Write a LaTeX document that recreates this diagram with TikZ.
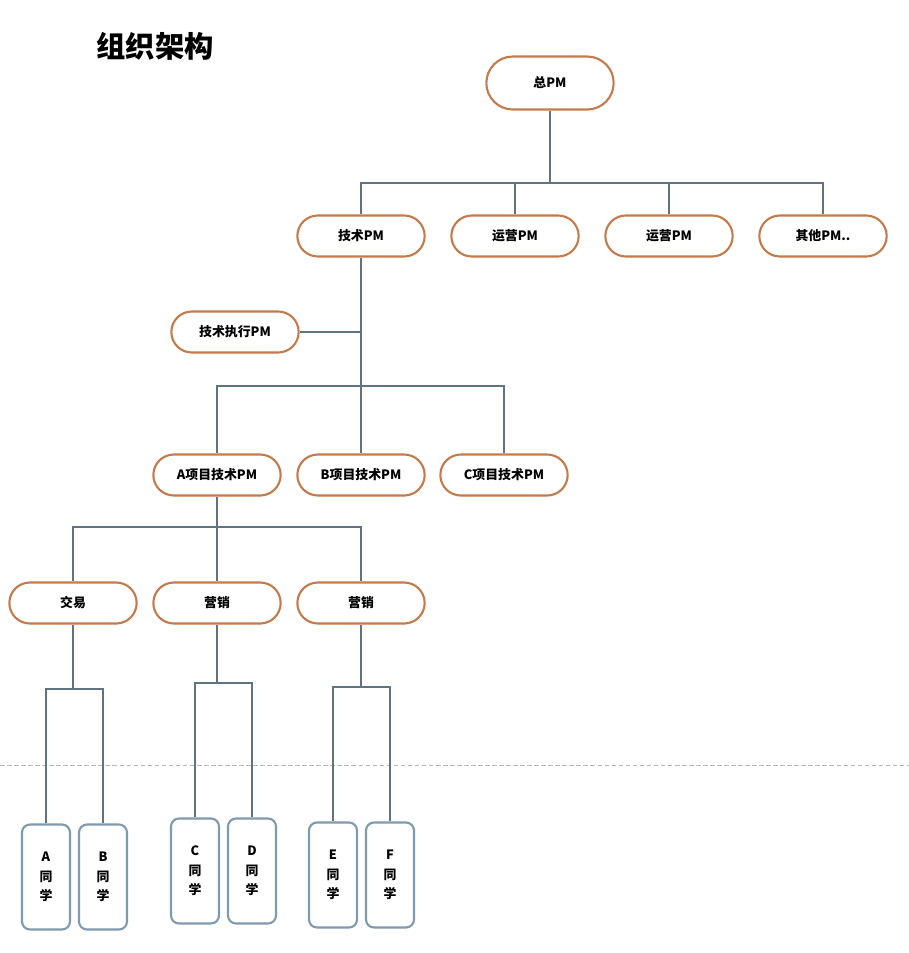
\documentclass[tikz,border=0pt]{standalone}
\usepackage{fontspec}
\setmainfont{Noto Sans CJK SC}
\usepackage{xcolor}
\usepackage{tikz}
\usetikzlibrary{shapes.misc, positioning, calc}
\definecolor{pmborder}{RGB}{196, 122, 74}
\definecolor{memberborder}{RGB}{126, 154, 174}
\definecolor{linkgray}{RGB}{96, 115, 128}
\definecolor{breakgray}{RGB}{185, 185, 185}
\tikzset{
  font=\fontsize{11}{13}\selectfont\bfseries,
  pmblock/.style={
    rounded rectangle, draw=pmborder, line width=1.8pt, fill=white,
    minimum width=132*0.03cm, minimum height=41*0.03cm, inner sep=2pt,
    align=center
  },
  topblock/.style={pmblock, minimum height=53*0.03cm},
  memberblock/.style={
    rectangle, rounded corners=8*0.03cm, draw=memberborder, line width=1.8pt,
    fill=white, minimum width=48*0.03cm, minimum height=105*0.03cm,
    inner sep=1pt, align=center, font=\fontsize{11}{16.5}\selectfont\bfseries
  },
  orgline/.style={draw=linkgray, line width=2.4pt},
  breakline/.style={draw=breakgray, line width=0.6pt, dash pattern=on 4pt off 2pt}
}
\begin{document}
\begin{tikzpicture}[x=0.03cm, y=-0.03cm]
  \useasboundingbox (0,0) rectangle (909,953);

  % Title
  \node[font=\fontsize{25}{30}\selectfont\bfseries] (title) at (155,46) {组织架构};

  % Page break marker
  \coordinate (brk_l) at (0,765);
  \coordinate (brk_r) at (909,765);
  \draw[breakline] (brk_l) -- (brk_r);

  % Level 1: overall PM
  \node[topblock] (zong) at (550,83) {总PM};

  % Level 2: PM lines
  \node[pmblock] (tech) at (361,236) {技术PM};
  \node[pmblock] (ops1) at (515,236) {运营PM};
  \node[pmblock] (ops2) at (669,236) {运营PM};
  \node[pmblock] (other) at (823,236) {其他PM..};

  % Tech branch
  \node[pmblock] (exec) at (235,332) {技术执行PM};
  \node[pmblock] (proja) at (217,475) {A项目技术PM};
  \node[pmblock] (projb) at (361,475) {B项目技术PM};
  \node[pmblock] (projc) at (504,475) {C项目技术PM};

  % Project A teams
  \node[pmblock] (trade) at (73,603) {交易};
  \node[pmblock] (mkt1) at (217,603) {营销};
  \node[pmblock] (mkt2) at (361,603) {营销};

  % Team members
  \node[memberblock] (mem_a) at (46,877) {A\\同\\学};
  \node[memberblock] (mem_b) at (103,877) {B\\同\\学};
  \node[memberblock] (mem_c) at (195,871) {C\\同\\学};
  \node[memberblock] (mem_d) at (252,871) {D\\同\\学};
  \node[memberblock] (mem_e) at (333,875) {E\\同\\学};
  \node[memberblock] (mem_f) at (390,875) {F\\同\\学};

  % Junction points
  \coordinate (hub_top) at (550,183);
  \coordinate (hub_tech) at (361,386);
  \coordinate (hub_proja) at (217,527);
  \coordinate (hub_trade) at (73,689);
  \coordinate (hub_mkt1) at (217,683);
  \coordinate (hub_mkt2) at (361,687);

  % Connectors
  \draw[orgline] (zong.south) -- (hub_top);
  \draw[orgline] (tech.north) |- (hub_top) -| (other.north);
  \draw[orgline] (ops1.north) -- (ops1.north |- hub_top);
  \draw[orgline] (ops2.north) -- (ops2.north |- hub_top);

  \draw[orgline] (tech.south) -- (hub_tech);
  \draw[orgline] (exec.east) -- (exec.east -| tech.south);
  \draw[orgline] (proja.north) |- (hub_tech) -| (projc.north);
  \draw[orgline] (projb.north) -- (hub_tech);

  \draw[orgline] (proja.south) -- (hub_proja);
  \draw[orgline] (trade.north) |- (hub_proja) -| (mkt2.north);
  \draw[orgline] (mkt1.north) -- (hub_proja);

  \draw[orgline] (trade.south) -- (hub_trade);
  \draw[orgline] (mem_a.north) |- (hub_trade) -| (mem_b.north);
  \draw[orgline] (mkt1.south) -- (hub_mkt1);
  \draw[orgline] (mem_c.north) |- (hub_mkt1) -| (mem_d.north);
  \draw[orgline] (mkt2.south) -- (hub_mkt2);
  \draw[orgline] (mem_e.north) |- (hub_mkt2) -| (mem_f.north);

\end{tikzpicture}
\end{document}
